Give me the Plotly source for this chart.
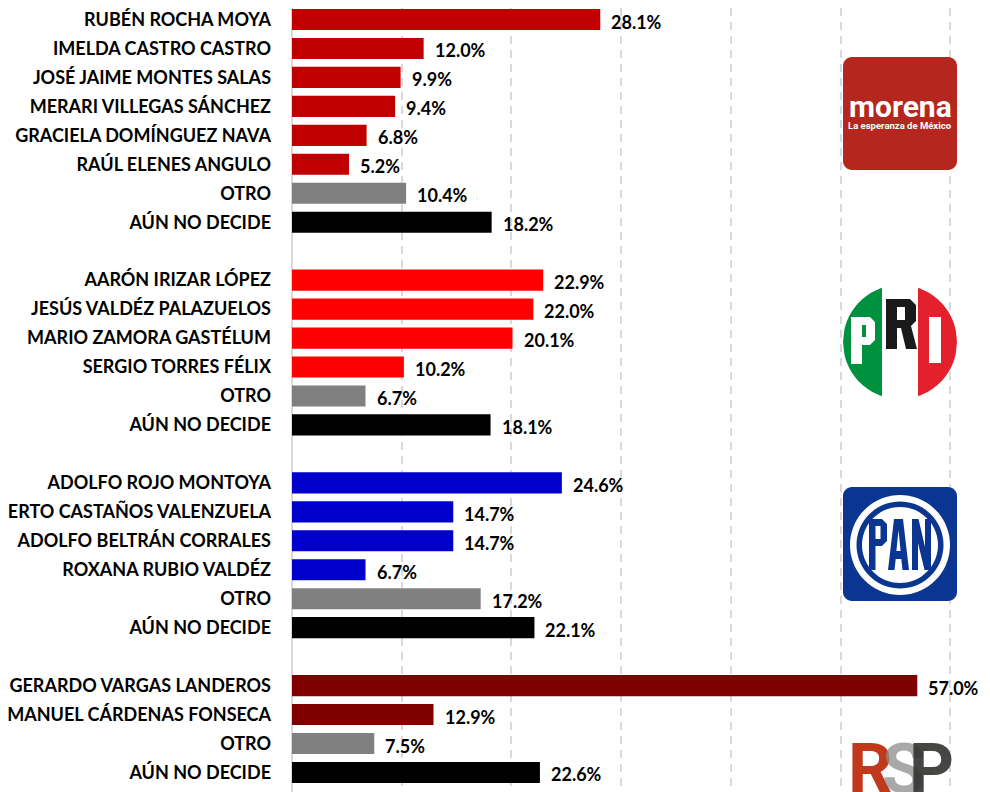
import math
import plotly.graph_objects as go

# ---------------- data ----------------
morena_names = ["RUBÉN ROCHA MOYA", "IMELDA CASTRO CASTRO", "JOSÉ JAIME MONTES SALAS",
                "MERARI VILLEGAS SÁNCHEZ", "GRACIELA DOMÍNGUEZ NAVA", "RAÚL ELENES ANGULO",
                "OTRO", "AÚN NO DECIDE"]
morena_vals = [28.1, 12.0, 9.9, 9.4, 6.8, 5.2, 10.4, 18.2]

pri_names = ["AARÓN IRIZAR LÓPEZ", "JESÚS VALDÉZ PALAZUELOS", "MARIO ZAMORA GASTÉLUM",
             "SERGIO TORRES FÉLIX", "OTRO", "AÚN NO DECIDE"]
pri_vals = [22.9, 22.0, 20.1, 10.2, 6.7, 18.1]

pan_names = ["ADOLFO ROJO MONTOYA", "ALBERTO CASTAÑOS VALENZUELA", "ADOLFO BELTRÁN CORRALES",
             "ROXANA RUBIO VALDÉZ", "OTRO", "AÚN NO DECIDE"]
pan_vals = [24.6, 14.7, 14.7, 6.7, 17.2, 22.1]

rsp_names = ["GERARDO VARGAS LANDEROS", "MANUEL CÁRDENAS FONSECA", "OTRO", "AÚN NO DECIDE"]
rsp_vals = [57.0, 12.9, 7.5, 22.6]

groups = [
    (morena_names, morena_vals, "#C00000"),
    (pri_names, pri_vals, "#FF0000"),
    (pan_names, pan_vals, "#0000CC"),
    (rsp_names, rsp_vals, "#800000"),
]
OTHER_COLOR = "#808080"
UNDECIDED_COLOR = "#000000"

# ---------------- layout geometry ----------------
OFF = 8                      # default page body margin
W, H = 982, 784
ML, MR, MT, MB = 284, 5, 0, 0
PW, PH = W - ML - MR, H - MT - MB
PX_PER_PCT = 10.97
XMAX = PW / PX_PER_PCT
ROW0_SCREEN = 19.5
ROW_H = 28.96
Y_TOP = -(ROW0_SCREEN - OFF - MT) / ROW_H
Y_BOT = Y_TOP + PH / ROW_H

LABEL_FONT = "Lato"

fig = go.Figure()
tickvals, ticktext = [], []
annotations = []
pos = 0
for names, vals, col in groups:
    ys, colors = [], []
    for n, v in zip(names, vals):
        ys.append(pos)
        tickvals.append(pos)
        ticktext.append(n)
        if n == "OTRO":
            colors.append(OTHER_COLOR)
        elif n.startswith("AÚN"):
            colors.append(UNDECIDED_COLOR)
        else:
            colors.append(col)
        annotations.append(dict(x=v, y=pos, xref="x", yref="y", text=f"{v:.1f}%",
                                showarrow=False, xanchor="left", yanchor="middle", xshift=9, yshift=-2,
                                font=dict(family=LABEL_FONT, size=18, color="#000000", weight="bold")))
        pos += 1
    fig.add_trace(go.Bar(x=vals, y=ys, orientation="h", marker=dict(color=colors, line_width=0),
                         width=0.73, showlegend=False, hoverinfo="skip"))
    pos += 1


# ---------------- logo helpers (screen pixel -> paper) ----------------
def px(x):
    return (x - OFF - ML) / PW


def py(y):
    return (H - MB - (y - OFF)) / PH


def pt(x, y):
    return f"{px(x):.5f},{py(y):.5f}"


def poly(points):
    return "M " + " L ".join(pt(x, y) for x, y in points) + " Z"


def rounded_rect(x0, y0, x1, y1, r, n=8):
    pts = []
    corners = [(x1 - r, y0 + r, -90, 0), (x1 - r, y1 - r, 0, 90),
               (x0 + r, y1 - r, 90, 180), (x0 + r, y0 + r, 180, 270)]
    for cx, cy, a0, a1 in corners:
        for i in range(n + 1):
            a = math.radians(a0 + (a1 - a0) * i / n)
            pts.append((cx + r * math.cos(a), cy + r * math.sin(a)))
    return poly(pts)


def circle(cx, cy, r, n=72):
    return poly([(cx + r * math.cos(2 * math.pi * i / n), cy + r * math.sin(2 * math.pi * i / n)) for i in range(n)])


def strip(cx, cy, r, xa, xb, n=30):
    top, bot = [], []
    for i in range(n + 1):
        x = xa + (xb - xa) * i / n
        d = math.sqrt(max(r * r - (x - cx) ** 2, 0))
        top.append((x, cy - d))
        bot.append((x, cy + d))
    return poly(top + bot[::-1])


shapes = []


def add(path, color):
    shapes.append(dict(type="path", xref="paper", yref="paper", path=path,
                       fillcolor=color, line=dict(width=0), layer="above"))


# morena
add(rounded_rect(843, 57, 957, 170, 9), "#B5261E")

# PRI
cx, cy, r = 900, 342, 57
add(strip(cx, cy, r, cx - r, 882), "#00913F")
add(strip(cx, cy, r, 882, 918), "#FFFFFF")
add(strip(cx, cy, r, 918, cx + r), "#E3202C")
add(poly([(851, 364), (851, 317), (870, 317), (875, 322), (875, 340), (870, 345), (862, 345), (862, 364)]), "#FFFFFF")
add(poly([(862, 325), (866, 325), (866, 337), (862, 337)]), "#00913F")
add(poly([(886, 349), (886, 299), (910, 299), (916, 305), (916, 321), (911, 326), (917, 349), (906, 349),
          (901, 328), (897, 328), (897, 349)]), "#1A1A1A")
add(poly([(897, 307), (905, 307), (905, 320), (897, 320)]), "#FFFFFF")
add(poly([(929, 317), (941, 317), (941, 363), (929, 363)]), "#FFFFFF")

# PAN
PANB = "#0A3591"
add(rounded_rect(843, 487, 957, 601, 9), PANB)
add(circle(900, 545, 50), "#FFFFFF")
add(circle(900, 545, 43.5), PANB)
add(circle(900, 545, 38), "#FFFFFF")
add(poly([(869, 570), (869, 519), (882, 519), (887, 524), (887, 541), (882, 546), (875.5, 546), (875.5, 570)]), PANB)
add(poly([(875.5, 526), (880.5, 526), (880.5, 539), (875.5, 539)]), "#FFFFFF")
add(poly([(888, 570), (894, 519), (903, 519), (909, 570), (902.5, 570), (901.3, 559), (895.7, 559), (894.5, 570)]), PANB)
add(poly([(896.4, 551), (900.6, 551), (898.5, 530)]), "#FFFFFF")
add(poly([(912, 570), (912, 519), (918.5, 519), (925, 547), (925, 519), (931, 519), (931, 570), (924.5, 570),
          (918, 543), (918, 570)]), PANB)

# morena text
annotations.append(dict(x=px(900), y=py(106), xref="paper", yref="paper",
                        text="morena", showarrow=False, xanchor="center", yanchor="middle",
                        font=dict(family="Roboto", size=30, color="#FFFFFF", weight="bold")))
annotations.append(dict(x=px(900), y=py(125), xref="paper", yref="paper",
                        text="La esperanza de México", showarrow=False, xanchor="center", yanchor="middle",
                        font=dict(family="Roboto", size=9.5, color="#FFFFFF", weight="bold")))
# RSP
for ch, xc, colr in [("R", 870, "rgba(193,57,27,1)"), ("S", 903, "rgba(140,140,140,0.75)"),
                     ("P", 931, "rgba(50,50,48,0.9)")]:
    annotations.append(dict(x=px(xc), y=py(769), xref="paper", yref="paper",
                            text=ch, showarrow=False, xanchor="center", yanchor="middle",
                            font=dict(family="Roboto", size=70, color=colr, weight="bold")))

fig.update_layout(
    width=W, height=H,
    margin=dict(l=ML, r=MR, t=MT, b=MB, pad=0),
    paper_bgcolor="#FFFFFF", plot_bgcolor="#FFFFFF",
    shapes=shapes,
    annotations=annotations,
    xaxis=dict(range=[0, XMAX], dtick=10, showgrid=True, gridcolor="#D9D9D9", gridwidth=2,
               griddash="8px,6px", zeroline=True, zerolinecolor="#D9D9D9", zerolinewidth=2,
               showticklabels=False, ticks="", showline=False, fixedrange=True),
    yaxis=dict(range=[Y_BOT, Y_TOP], tickmode="array", tickvals=tickvals, ticktext=ticktext,
               showgrid=False, zeroline=False, ticks="", ticklabelstandoff=20, automargin=False,
               ticklabeloverflow="allow",
               tickfont=dict(family=LABEL_FONT, size=18, color="#000000", weight="bold"),
               fixedrange=True),
)

fig.write_html("out.html")
